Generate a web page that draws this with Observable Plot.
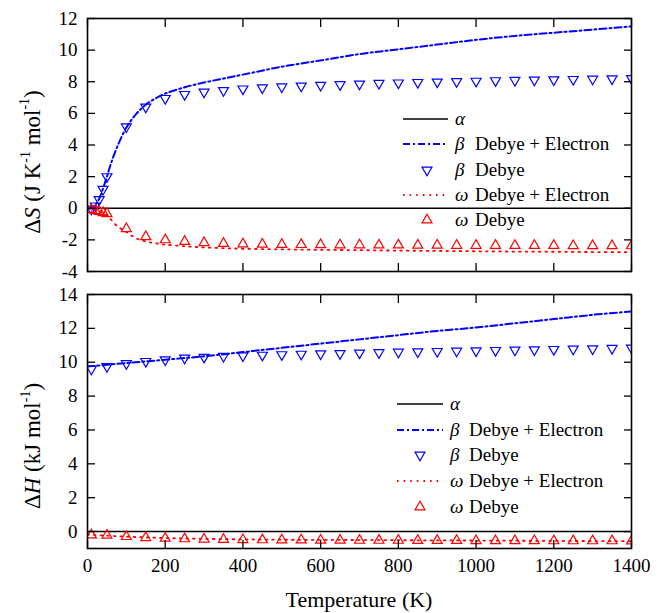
<!DOCTYPE html>
<html><head><meta charset="utf-8">
<script src="https://cdn.jsdelivr.net/npm/d3@7"></script>
<script src="https://cdn.jsdelivr.net/npm/@observablehq/plot@0.6"></script>
<style>
body{margin:0;background:#fff}
#chart{position:relative;width:667px;height:613px;font-family:'Liberation Serif'}
#chart svg{position:absolute;left:0}
</style>
</head><body><div id="chart"></div>
<script>
// ---- Data: entropy difference ΔS (J K^-1 mol^-1) ----
const tempMarkS = [10,20,30,40,50,100,150,200,250,300,350,400,450,500,550,600,650,700,750,800,850,900,950,1000,1050,1100,1150,1200,1250,1300,1350,1400];
const betaDebyeS = [-0.05,0.15,0.55,1.2,2.0,5.15,6.4,6.95,7.2,7.35,7.45,7.55,7.62,7.68,7.73,7.78,7.82,7.86,7.9,7.93,7.96,7.99,8.02,8.04,8.07,8.09,8.11,8.13,8.15,8.17,8.19,8.21];
const omegaDebyeS = [-0.1,-0.15,-0.2,-0.28,-0.35,-1.3,-1.8,-2.0,-2.1,-2.18,-2.23,-2.26,-2.28,-2.29,-2.3,-2.31,-2.32,-2.32,-2.33,-2.33,-2.34,-2.34,-2.35,-2.35,-2.35,-2.36,-2.36,-2.36,-2.37,-2.37,-2.37,-2.38];
const tempLineS = [0,10,20,30,40,50,60,75,100,125,150,175,200,250,300,350,400,500,600,700,800,900,1000,1100,1200,1300,1400];
const betaDebyeElecS = [0,0,0.2,0.6,1.25,2.0,2.8,3.8,5.1,5.95,6.55,6.95,7.25,7.65,7.95,8.2,8.45,8.95,9.35,9.75,10.05,10.35,10.65,10.9,11.1,11.3,11.5];
const omegaDebyeElecS = [0,-0.02,-0.08,-0.18,-0.3,-0.45,-0.7,-1.1,-1.5,-1.9,-2.1,-2.22,-2.3,-2.4,-2.48,-2.52,-2.56,-2.6,-2.63,-2.65,-2.68,-2.7,-2.72,-2.74,-2.75,-2.77,-2.78];

// ---- Data: enthalpy difference ΔH (kJ mol^-1) ----
const tempMarkH = [10,50,100,150,200,250,300,350,400,450,500,550,600,650,700,750,800,850,900,950,1000,1050,1100,1150,1200,1250,1300,1350,1400];
const betaDebyeH = [9.6,9.75,9.92,10.05,10.15,10.25,10.3,10.35,10.38,10.42,10.45,10.48,10.5,10.52,10.55,10.57,10.6,10.62,10.64,10.66,10.68,10.7,10.72,10.74,10.76,10.78,10.8,10.82,10.84];
const omegaDebyeH = [-0.2,-0.22,-0.3,-0.36,-0.4,-0.43,-0.45,-0.47,-0.48,-0.49,-0.5,-0.5,-0.51,-0.51,-0.52,-0.52,-0.52,-0.53,-0.53,-0.53,-0.54,-0.54,-0.54,-0.54,-0.55,-0.55,-0.55,-0.55,-0.56];
const tempLineH = [0,100,200,300,400,500,600,700,800,900,1000,1100,1200,1300,1400];
const betaDebyeElecH = [9.75,9.95,10.15,10.35,10.6,10.85,11.1,11.35,11.6,11.85,12.05,12.3,12.55,12.8,13.0];
const omegaDebyeElecH = [-0.18,-0.3,-0.38,-0.43,-0.46,-0.48,-0.49,-0.5,-0.51,-0.52,-0.53,-0.54,-0.55,-0.56,-0.57];

const xTicks = [0,200,400,600,800,1000,1200,1400];
const yTicksS = [-4,-2,0,2,4,6,8,10,12];
const yTicksH = [0,2,4,6,8,10,12,14];
const legendItems = [
  {greek:"α", text:"", kind:"solid"},
  {greek:"β", text:"Debye + Electron", kind:"dashdot"},
  {greek:"β", text:"Debye", kind:"down"},
  {greek:"ω", text:"Debye + Electron", kind:"dotted"},
  {greek:"ω", text:"Debye", kind:"up"}
];

const BLUE = "#0000ff", RED = "#ff0000";
const SERIF = "Liberation Serif";
const triangleDown = {draw(ctx, size){
  const y = -Math.sqrt(size / (Math.sqrt(3) * 3));
  ctx.moveTo(0, -2 * y);
  ctx.lineTo(-Math.sqrt(3) * y, y);
  ctx.lineTo(Math.sqrt(3) * y, y);
  ctx.closePath();
}};

const zip = (xs, ys) => xs.map((x, i) => ({x, y: ys[i]}));

function panel(o) {
  const svg = Plot.plot({
    width: 667, height: o.height,
    marginLeft: 87, marginRight: 36, marginTop: o.marginTop, marginBottom: o.marginBottom,
    x: {domain: [0, 1400]},
    y: {domain: o.yDomain},
    marks: [
      Plot.ruleY([0], {stroke: "black", strokeWidth: 1.6}),
      Plot.line(zip(o.tLine, o.betaLine), {x: "x", y: "y", stroke: BLUE, strokeWidth: 2, strokeDasharray: "7,3,2,3", curve: "catmull-rom", clip: true}),
      Plot.line(zip(o.tLine, o.omegaLine), {x: "x", y: "y", stroke: RED, strokeWidth: 1.8, strokeDasharray: "1.6,5", curve: "catmull-rom", clip: true}),
      Plot.dot(zip(o.tMark, o.betaMark), {x: "x", y: "y", symbol: triangleDown, r: 3.7, stroke: BLUE, strokeWidth: 1.2, fill: "none", clip: true}),
      Plot.dot(zip(o.tMark, o.omegaMark), {x: "x", y: "y", symbol: "triangle", r: 3.7, stroke: RED, strokeWidth: 1.2, fill: "none", clip: true}),
      Plot.axisX({anchor: "bottom", ticks: xTicks, tickSize: -8, tickPadding: 18, strokeWidth: 1.3, fontSize: 19,
                  tickFormat: o.showX ? (d => String(d)) : (() => ""), label: null}),
      Plot.axisX({anchor: "top", ticks: xTicks, tickSize: -8, strokeWidth: 1.3, tickFormat: () => "", label: null}),
      Plot.axisY({anchor: "left", ticks: o.yTicks, tickSize: -8, tickPadding: 18, strokeWidth: 1.3, fontSize: 19,
                  tickFormat: d => String(d), label: null}),
      Plot.axisY({anchor: "right", ticks: o.yTicks, tickSize: -8, strokeWidth: 1.3, tickFormat: () => "", label: null}),
      Plot.frame({stroke: "black", strokeWidth: 1.6})
    ]
  });
  svg.style.top = o.top + "px";
  svg.style.background = "white";
  svg.style.color = "black";
  return svg;
}

function addLegend(svg, lx0, lx1, sx, tx, gap, rows) {
  const g = d3.select(svg).append("g").attr("font-size", 19).attr("text-anchor", "start");
  legendItems.forEach((it, i) => {
    const y = rows[i];
    if (it.kind === "solid") g.append("line").attr("x1", lx0).attr("x2", lx1).attr("y1", y).attr("y2", y).attr("stroke", "black").attr("stroke-width", 1.6);
    if (it.kind === "dashdot") g.append("line").attr("x1", lx0).attr("x2", lx1).attr("y1", y).attr("y2", y).attr("stroke", BLUE).attr("stroke-width", 2).attr("stroke-dasharray", "7,3,2,3");
    if (it.kind === "dotted") g.append("line").attr("x1", lx0).attr("x2", lx1).attr("y1", y).attr("y2", y).attr("stroke", RED).attr("stroke-width", 1.8).attr("stroke-dasharray", "1.6,5");
    if (it.kind === "down" || it.kind === "up") {
      const p = d3.path();
      (it.kind === "down" ? triangleDown : d3.symbolTriangle).draw(p, Math.PI * 3.7 * 3.7);
      g.append("path").attr("d", p.toString()).attr("transform", `translate(${sx},${y})`)
        .attr("fill", "none").attr("stroke", it.kind === "down" ? BLUE : RED).attr("stroke-width", 1.2);
    }
    const t = g.append("text").attr("x", tx).attr("y", y).attr("dy", "0.32em").attr("text-anchor", "start");
    t.append("tspan").attr("font-style", "italic").text(it.greek);
    if (it.text) t.append("tspan").attr("x", tx + gap).text(it.text);
  });
}

function yLabel(svg, x, cy, sym, parts) {
  const t = d3.select(svg).append("text").attr("transform", `translate(${x},${cy}) rotate(-90)`)
    .attr("text-anchor", "middle").attr("font-size", 23);
  t.append("tspan").text("Δ");
  t.append("tspan").attr("font-style", "italic").text(sym);
  parts.forEach(p => {
    if (p.sup) t.append("tspan").attr("font-size", 14).attr("dy", "-0.75em").text(p.sup);
    else t.append("tspan").attr("dy", p.after ? "0.45em" : null).text(p.t);
  });
}

const chart = document.getElementById("chart");
const topPanel = panel({height: 283, marginTop: 18, marginBottom: 12, top: 0, yDomain: [-4, 12], yTicks: yTicksS, showX: false,
  tLine: tempLineS, betaLine: betaDebyeElecS, omegaLine: omegaDebyeElecS, tMark: tempMarkS, betaMark: betaDebyeS, omegaMark: omegaDebyeS});
const botPanel = panel({height: 330, marginTop: 11, marginBottom: 65, top: 283, yDomain: [-1, 14], yTicks: yTicksH, showX: true,
  tLine: tempLineH, betaLine: betaDebyeElecH, omegaLine: omegaDebyeElecH, tMark: tempMarkH, betaMark: betaDebyeH, omegaMark: omegaDebyeH});
chart.appendChild(topPanel);
chart.appendChild(botPanel);

addLegend(topPanel, 403, 448, 427, 455, 20, [119, 144, 170, 195, 220]);
addLegend(botPanel, 397, 443, 420, 450, 19, [404 - 283, 430 - 283, 455 - 283, 481 - 283, 507 - 283]);

yLabel(topPanel, 40, 162, "S", [{t: " (J K"}, {sup: "-1"}, {t: " mol", after: true}, {sup: "-1"}, {t: ")", after: true}]);
yLabel(botPanel, 40, 446 - 283, "H", [{t: " (kJ mol"}, {sup: "-1"}, {t: ")", after: true}]);

d3.select(botPanel).append("text").attr("x", 359).attr("y", 324).attr("text-anchor", "middle")
  .attr("font-size", 22).text("Temperature (K)");

// use the serif face on every text element
for (const svg of [topPanel, botPanel]) {
  svg.setAttribute("font-family", SERIF);
  svg.querySelectorAll("g, text, tspan").forEach(el => {
    if (el.hasAttribute("font-family")) el.setAttribute("font-family", SERIF);
    if (el.tagName === "text") el.style.fontFamily = "'Liberation Serif'";
  });
}
</script>
</body></html>
